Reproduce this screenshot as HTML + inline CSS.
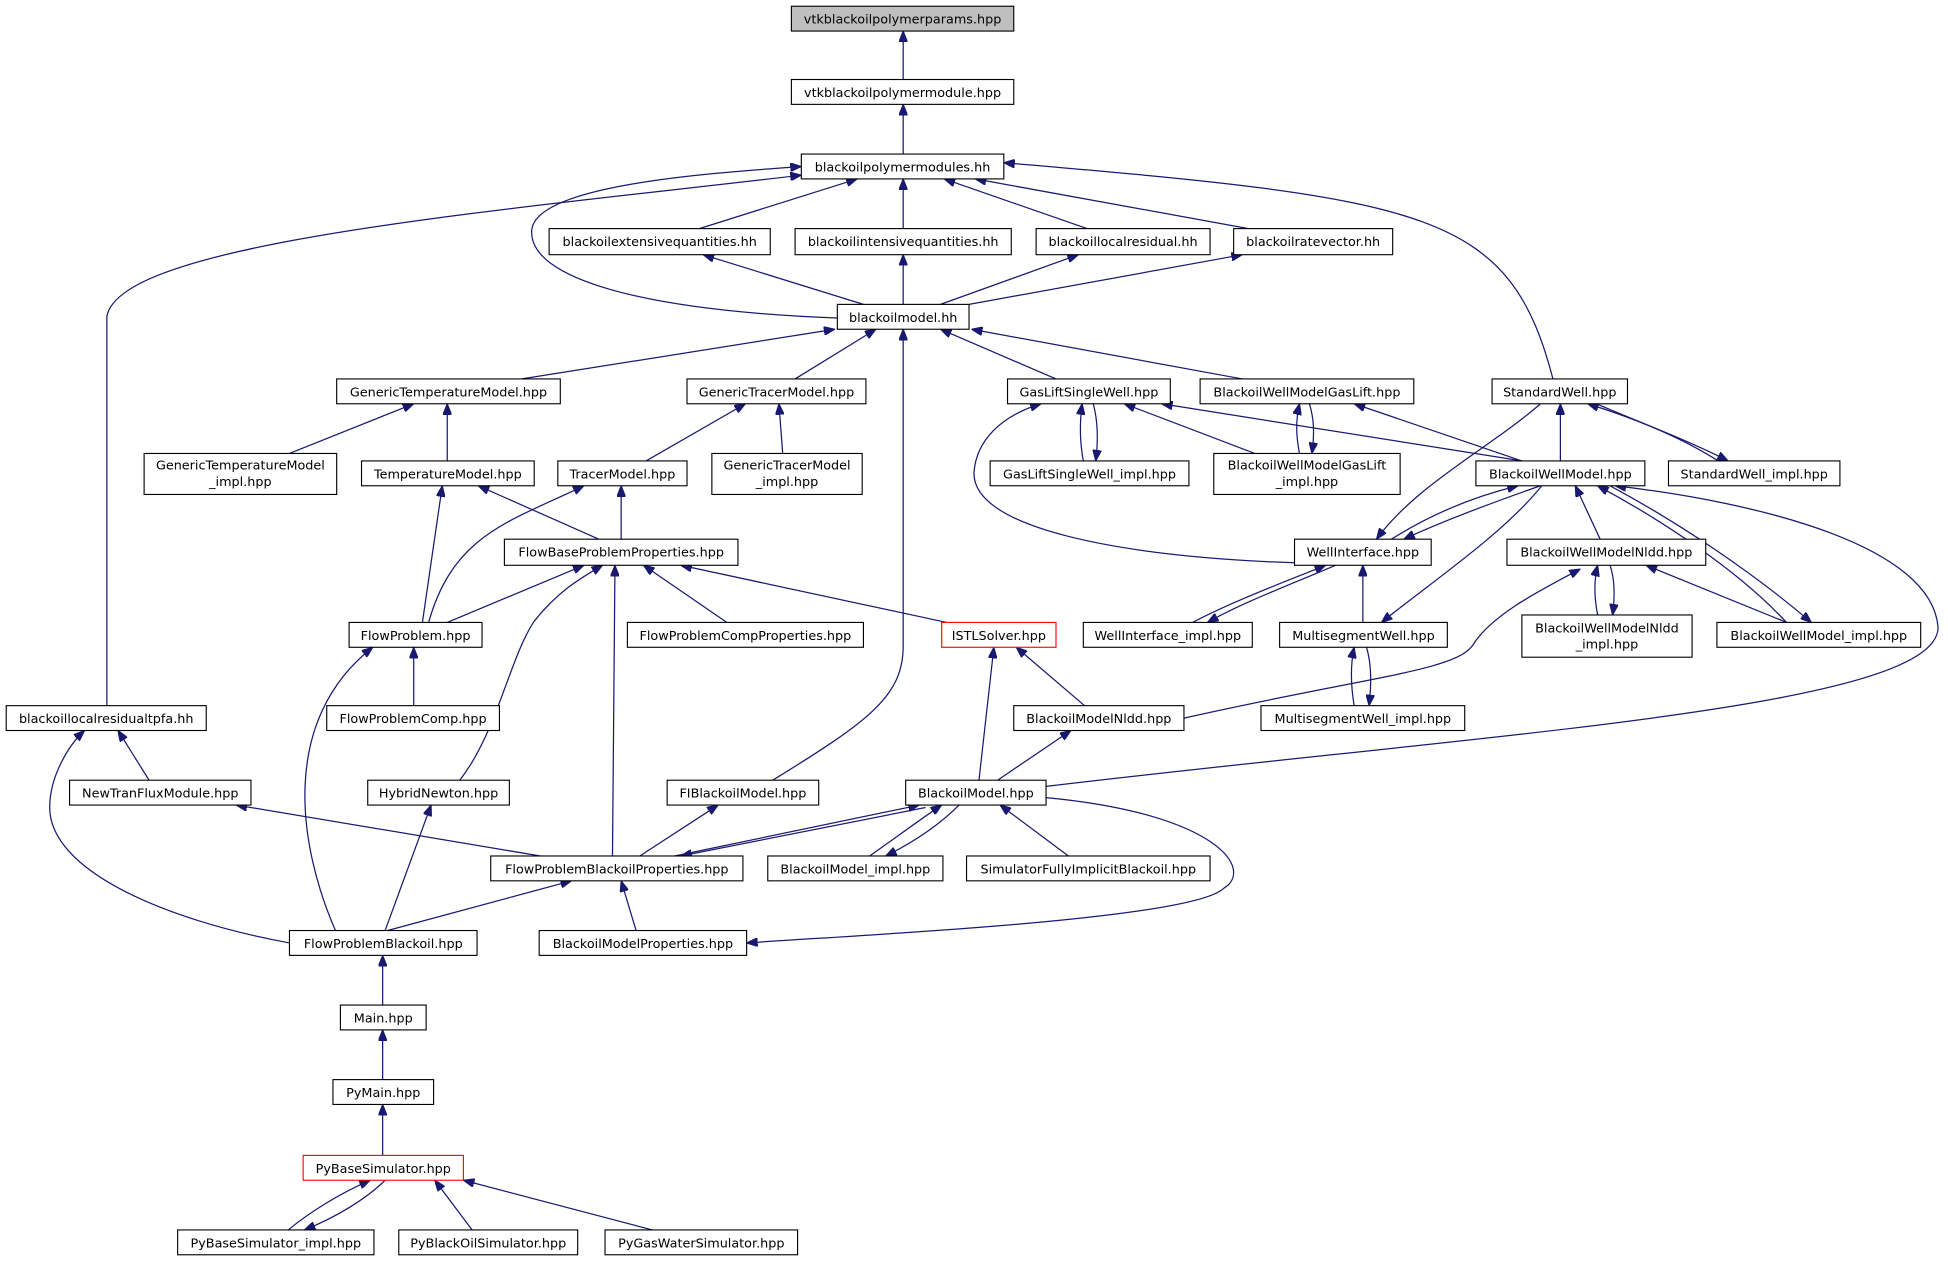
<!DOCTYPE html>
<html><head><meta charset="utf-8"><style>
html,body{margin:0;padding:0;background:#fff;}
svg{display:block;}
text{font-family:"DejaVu Sans","Liberation Sans",sans-serif;font-size:10.3px;fill:#000;text-anchor:middle;}
.b{fill:#fff;stroke:#000;stroke-width:0.9;}
.e{fill:none;stroke:#191970;stroke-width:1;marker-end:url(#a);}
</style></head><body>
<svg width="1948" height="1261" viewBox="0 0 1568 1015" xmlns="http://www.w3.org/2000/svg">
<defs><marker id="a" viewBox="0 0 10 8" refX="10" refY="4" markerWidth="9" markerHeight="7" markerUnits="userSpaceOnUse" orient="auto"><path d="M0,0 L10,4 L0,8 Z" fill="#191970" stroke="#191970"/></marker></defs>

<!-- edges -->
<path class="e" d="M727,64 L727,25"/>
<path class="e" d="M727,124 L727,84"/>
<path class="e" d="M563,184 L690,144"/>
<path class="e" d="M727,184 L727,144"/>
<path class="e" d="M875,184 L760,144"/>
<path class="e" d="M1005,184 L785,144"/>
<path class="e" d="M674,256 C520,250 425,225 428,185 C432,150 560,140 645,134"/>
<path class="e" d="M86,568 L86,255 C95,195 400,170 645,141"/>
<path class="e" d="M1250,305 C1215,170 1150,160 808,131"/>
<path class="e" d="M695,245 L566,205"/>
<path class="e" d="M727,245 L727,205"/>
<path class="e" d="M757,245 L868,205"/>
<path class="e" d="M780,245 L1000,205"/>
<path class="e" d="M420,305 L672,265"/>
<path class="e" d="M640,305 L705,265"/>
<path class="e" d="M622,628 C700,580 727,560 727,520 L727,265"/>
<path class="e" d="M850,305 L757,265"/>
<path class="e" d="M1000,305 L782,265"/>
<path class="e" d="M233,365 L333,325"/>
<path class="e" d="M360,371 L360,325"/>
<path class="e" d="M520,371 L600,325"/>
<path class="e" d="M630,365 L627,325"/>
<path class="e" d="M872,371 C869,355 869,340 871,325"/>
<path class="e" d="M880,325 C884,340 884,355 882,371"/>
<path class="e" d="M1010,365 L905,325"/>
<path class="e" d="M1225,371 L935,325"/>
<path class="e" d="M1046,365 C1043,350 1043,338 1046,325"/>
<path class="e" d="M1054,325 C1058,338 1058,350 1056,365"/>
<path class="e" d="M1225,371 L1090,325"/>
<path class="e" d="M1042,453 C900,448 782,425 784,380 C786,355 805,335 838,325"/>
<path class="e" d="M1240,325 C1200,360 1140,390 1108,434"/>
<path class="e" d="M1256,371 L1256,325"/>
<path class="e" d="M1383,371 C1350,350 1310,335 1278,325"/>
<path class="e" d="M1285,325 C1320,340 1360,355 1391,371"/>
<path class="e" d="M1120,434 C1150,415 1185,400 1222,391"/>
<path class="e" d="M1240,391 C1200,405 1160,420 1130,434"/>
<path class="e" d="M1241,391 C1210,430 1150,470 1112,501"/>
<path class="e" d="M1288,434 L1268,391"/>
<path class="e" d="M1438,501 C1400,460 1340,420 1286,391"/>
<path class="e" d="M1296,391 C1350,420 1410,460 1458,501"/>
<path class="e" d="M842,633 C1200,590 1560,570 1560,505 C1555,440 1420,405 1300,391"/>
<path class="e" d="M482,434 L385,391"/>
<path class="e" d="M500,434 L500,391"/>
<path class="e" d="M340,501 L356,391"/>
<path class="e" d="M345,501 C365,430 410,420 470,391"/>
<path class="e" d="M360,501 L470,455"/>
<path class="e" d="M585,501 L518,455"/>
<path class="e" d="M762,501 L548,455"/>
<path class="e" d="M370,628 C400,590 410,530 430,500 C450,475 468,465 485,455"/>
<path class="e" d="M493,689 L495,455"/>
<path class="e" d="M960,501 C990,485 1030,470 1067,455"/>
<path class="e" d="M1075,455 C1040,470 1000,485 972,501"/>
<path class="e" d="M1097,501 L1097,455"/>
<path class="e" d="M1286,495 C1283,480 1283,467 1286,455"/>
<path class="e" d="M1296,455 C1300,467 1300,480 1298,495"/>
<path class="e" d="M1438,501 L1325,455"/>
<path class="e" d="M953,578 C1100,545 1170,540 1185,520 C1200,495 1240,475 1272,458"/>
<path class="e" d="M1090,568 C1087,550 1087,535 1090,521"/>
<path class="e" d="M1100,521 C1104,535 1104,550 1102,568"/>
<path class="e" d="M333,568 L333,521"/>
<path class="e" d="M873,568 L818,521"/>
<path class="e" d="M788,628 L800,521"/>
<path class="e" d="M803,628 L862,588"/>
<path class="e" d="M120,628 L95,588"/>
<path class="e" d="M233,759 C130,740 40,700 40,650 C40,625 55,600 68,588"/>
<path class="e" d="M270,749 C240,680 225,580 300,521"/>
<path class="e" d="M310,749 L347,648"/>
<path class="e" d="M435,689 L190,648"/>
<path class="e" d="M515,689 L578,648"/>
<path class="e" d="M543,689 L740,648"/>
<path class="e" d="M745,650 L548,689"/>
<path class="e" d="M700,689 C720,675 740,660 758,648"/>
<path class="e" d="M772,648 C755,665 735,678 713,689"/>
<path class="e" d="M860,689 L805,648"/>
<path class="e" d="M842,642 C980,655 1010,700 985,715 C960,740 700,752 601,759"/>
<path class="e" d="M312,749 L460,709"/>
<path class="e" d="M512,749 L500,709"/>
<path class="e" d="M308,809 L308,769"/>
<path class="e" d="M308,869 L308,829"/>
<path class="e" d="M308,930 L308,889"/>
<path class="e" d="M232,990 C250,975 275,960 298,950"/>
<path class="e" d="M310,950 C295,965 270,980 245,990"/>
<path class="e" d="M380,990 L350,950"/>
<path class="e" d="M525,990 L373,950"/>

<!-- nodes -->
<g>
<rect x="637" y="5" width="179" height="20" fill="#bfbfbf" stroke="#000" stroke-width="0.9"/><text x="726.5" y="19">vtkblackoilpolymerparams.hpp</text>
<rect class="b" x="637" y="64" width="179" height="20"/><text x="726.5" y="78">vtkblackoilpolymermodule.hpp</text>
<rect class="b" x="645" y="124" width="163" height="20"/><text x="726.5" y="138">blackoilpolymermodules.hh</text>
<rect class="b" x="442" y="184" width="178" height="21"/><text x="531" y="198">blackoilextensivequantities.hh</text>
<rect class="b" x="640" y="184" width="174" height="21"/><text x="727" y="198">blackoilintensivequantities.hh</text>
<rect class="b" x="834" y="184" width="140" height="21"/><text x="904" y="198">blackoillocalresidual.hh</text>
<rect class="b" x="993" y="184" width="128" height="21"/><text x="1057" y="198">blackoilratevector.hh</text>
<rect class="b" x="674" y="245" width="106" height="20"/><text x="727" y="259">blackoilmodel.hh</text>
<rect class="b" x="271" y="305" width="180" height="20"/><text x="361" y="319">GenericTemperatureModel.hpp</text>
<rect class="b" x="553" y="305" width="144" height="20"/><text x="625" y="319">GenericTracerModel.hpp</text>
<rect class="b" x="811" y="305" width="131" height="20"/><text x="876.5" y="319">GasLiftSingleWell.hpp</text>
<rect class="b" x="966" y="305" width="172" height="20"/><text x="1052" y="319">BlackoilWellModelGasLift.hpp</text>
<rect class="b" x="1201" y="305" width="109" height="20"/><text x="1255.5" y="319">StandardWell.hpp</text>
<rect class="b" x="116" y="365" width="155" height="33"/><text x="193.5" y="378">GenericTemperatureModel</text><text x="193.5" y="391">_impl.hpp</text>
<rect class="b" x="291" y="371" width="139" height="20"/><text x="360.5" y="385">TemperatureModel.hpp</text>
<rect class="b" x="449" y="371" width="104" height="20"/><text x="501" y="385">TracerModel.hpp</text>
<rect class="b" x="573" y="365" width="121" height="33"/><text x="633.5" y="378">GenericTracerModel</text><text x="633.5" y="391">_impl.hpp</text>
<rect class="b" x="797" y="371" width="160" height="20"/><text x="877" y="385">GasLiftSingleWell_impl.hpp</text>
<rect class="b" x="977" y="365" width="150" height="33"/><text x="1052" y="378">BlackoilWellModelGasLift</text><text x="1052" y="391">_impl.hpp</text>
<rect class="b" x="1188" y="371" width="136" height="20"/><text x="1256" y="385">BlackoilWellModel.hpp</text>
<rect class="b" x="1343" y="371" width="138" height="20"/><text x="1412" y="385">StandardWell_impl.hpp</text>
<rect class="b" x="406" y="434" width="188" height="21"/><text x="500" y="448">FlowBaseProblemProperties.hpp</text>
<rect class="b" x="1042" y="434" width="110" height="21"/><text x="1097" y="448">WellInterface.hpp</text>
<rect class="b" x="1213" y="434" width="160" height="21"/><text x="1293" y="448">BlackoilWellModelNldd.hpp</text>
<rect class="b" x="281" y="501" width="107" height="20"/><text x="334.5" y="515">FlowProblem.hpp</text>
<rect class="b" x="505" y="501" width="190" height="20"/><text x="600" y="515">FlowProblemCompProperties.hpp</text>
<rect x="758" y="501" width="92" height="20" fill="#fff" stroke="#ff0000" stroke-width="0.9"/><text x="804" y="515">ISTLSolver.hpp</text>
<rect class="b" x="872" y="501" width="136" height="20"/><text x="940" y="515">WellInterface_impl.hpp</text>
<rect class="b" x="1030" y="501" width="135" height="20"/><text x="1097.5" y="515">MultisegmentWell.hpp</text>
<rect class="b" x="1225" y="495" width="137" height="34"/><text x="1293.5" y="509">BlackoilWellModelNldd</text><text x="1293.5" y="522">_impl.hpp</text>
<rect class="b" x="1382" y="501" width="164" height="20"/><text x="1464" y="515">BlackoilWellModel_impl.hpp</text>
<rect class="b" x="5" y="568" width="161" height="20"/><text x="85.5" y="582">blackoillocalresidualtpfa.hh</text>
<rect class="b" x="263" y="568" width="139" height="20"/><text x="332.5" y="582">FlowProblemComp.hpp</text>
<rect class="b" x="816" y="568" width="137" height="20"/><text x="884.5" y="582">BlackoilModelNldd.hpp</text>
<rect class="b" x="1015" y="568" width="164" height="20"/><text x="1097" y="582">MultisegmentWell_impl.hpp</text>
<rect class="b" x="56" y="628" width="146" height="20"/><text x="129" y="642">NewTranFluxModule.hpp</text>
<rect class="b" x="296" y="628" width="114" height="20"/><text x="353" y="642">HybridNewton.hpp</text>
<rect class="b" x="537" y="628" width="122" height="20"/><text x="598" y="642">FIBlackoilModel.hpp</text>
<rect class="b" x="729" y="628" width="113" height="20"/><text x="785.5" y="642">BlackoilModel.hpp</text>
<rect class="b" x="395" y="689" width="203" height="20"/><text x="496.5" y="703">FlowProblemBlackoilProperties.hpp</text>
<rect class="b" x="618" y="689" width="141" height="20"/><text x="688.5" y="703">BlackoilModel_impl.hpp</text>
<rect class="b" x="778" y="689" width="196" height="20"/><text x="876" y="703">SimulatorFullyImplicitBlackoil.hpp</text>
<rect class="b" x="233" y="749" width="151" height="20"/><text x="308.5" y="763">FlowProblemBlackoil.hpp</text>
<rect class="b" x="434" y="749" width="167" height="20"/><text x="517.5" y="763">BlackoilModelProperties.hpp</text>
<rect class="b" x="274" y="809" width="69" height="20"/><text x="308.5" y="823">Main.hpp</text>
<rect class="b" x="268" y="869" width="81" height="20"/><text x="308.5" y="883">PyMain.hpp</text>
<rect x="244" y="930" width="129" height="20" fill="#fff" stroke="#ff0000" stroke-width="0.9"/><text x="308.5" y="944">PyBaseSimulator.hpp</text>
<rect class="b" x="143" y="990" width="158" height="20"/><text x="222" y="1004">PyBaseSimulator_impl.hpp</text>
<rect class="b" x="321" y="990" width="144" height="20"/><text x="393" y="1004">PyBlackOilSimulator.hpp</text>
<rect class="b" x="487" y="990" width="155" height="20"/><text x="564.5" y="1004">PyGasWaterSimulator.hpp</text>
</g>
</svg>
</body></html>
